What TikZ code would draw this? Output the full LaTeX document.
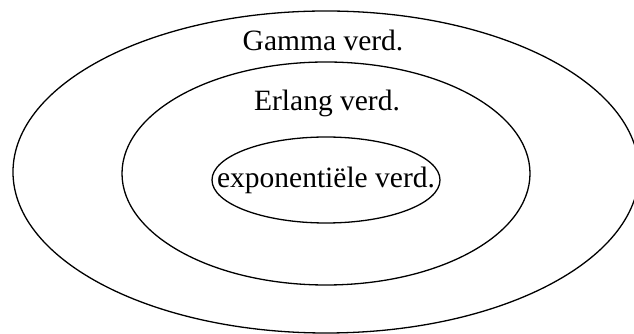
\documentclass[tikz,border=0pt]{standalone}
\usepackage{fontspec}
\setmainfont{Liberation Serif}
\usetikzlibrary{shapes.geometric}

\begin{document}
\begin{tikzpicture}[
  x=1pt, y=1pt,
  font=\fontsize{29.5}{34}\selectfont,
  ring/.style={draw=black, ellipse, line width=1.3pt, inner sep=0pt},
  lbl/.style={inner sep=0pt, align=center},
]
\useasboundingbox (0, 0) rectangle (634, 334);
\clip (0, 0) rectangle (634, 334);
\node[ring, minimum width=626, minimum height=322] (gamma) at (326, 162) {};
\node[ring, minimum width=408, minimum height=223] (erlang) at (326, 160.5) {};
\node[ring, minimum width=228, minimum height=86] (expo) at (326, 154) {};
\node[lbl] (expotxt) at (expo) {exponentiële verd.};
\node[lbl] (gammatxt) at (323, 294) {Gamma verd.};
\node[lbl] (erlangtxt) at (327, 231) {Erlang verd.};
\end{tikzpicture}
\end{document}
